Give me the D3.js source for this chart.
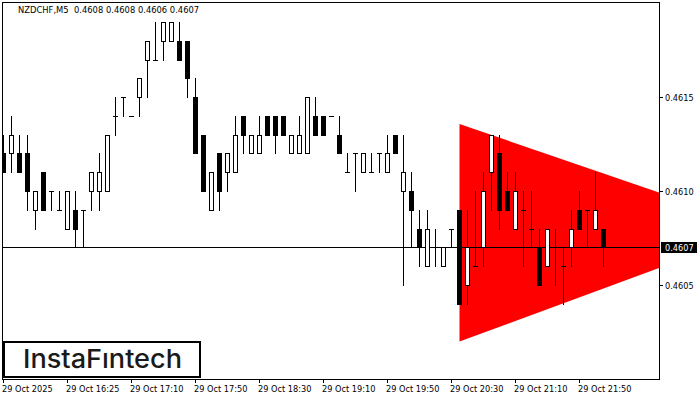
<!DOCTYPE html>
<html><head><meta charset="utf-8">
<script src="https://cdn.jsdelivr.net/npm/d3@7"></script>
<style>html,body{margin:0;padding:0;background:#fff;overflow:hidden;} svg{display:block;}</style>
</head><body>
<script>
// ---- data (NZDCHF, M5) ----
const opens = [0.4612,0.4612,0.4612,0.4612,0.4609,0.4611,0.4610,0.4609,0.4608,0.4609,
0.4609,0.4610,0.4610,0.4610,0.4614,0.4615,0.4614,0.4615,0.4617,0.4617,
0.4618,0.4618,0.4618,0.4618,0.4615,0.4613,0.4609,0.4612,0.4611,0.4611,
0.4614,0.4612,0.4612,0.4614,0.4614,0.4614,0.4612,0.4612,0.4612,0.4614,
0.4614,0.4614,0.4613,0.4611,0.4612,0.4611,0.4611,0.4612,0.4611,0.4613,
0.4610,0.4610,0.4608,0.4606,0.4607,0.4606,0.4608,0.4609,0.4605,0.4606,
0.4607,0.4611,0.4612,0.4610,0.4608,0.4609,0.4608,0.4607,0.4606,0.4607,
0.4606,0.4607,0.4609,0.4609,0.4608,0.4608];
const highs = [0.4613,0.4614,0.4613,0.4613,0.4610,0.4611,0.4610,0.4610,0.4610,0.4610,
0.4609,0.4611,0.4612,0.4613,0.4615,0.4615,0.4614,0.4616,0.4618,0.4619,
0.4619,0.4619,0.4619,0.4618,0.4616,0.4613,0.4611,0.4612,0.4612,0.4614,
0.4614,0.4613,0.4614,0.4614,0.4614,0.4614,0.4613,0.4614,0.4615,0.4615,
0.4614,0.4614,0.4614,0.4612,0.4612,0.4612,0.4612,0.4612,0.4613,0.4613,
0.4613,0.4611,0.4609,0.4609,0.4608,0.4607,0.4608,0.4609,0.4609,0.4610,
0.4611,0.4613,0.4613,0.4611,0.4611,0.4610,0.4610,0.4608,0.4608,0.4608,
0.4607,0.4609,0.4610,0.4609,0.4611,0.4608];
const lows = [0.4611,0.4611,0.4611,0.4609,0.4608,0.4609,0.4609,0.4609,0.4608,0.4607,
0.4607,0.4609,0.4609,0.4610,0.4613,0.4614,0.4614,0.4614,0.4615,0.4617,
0.4617,0.4618,0.4617,0.4615,0.4612,0.4610,0.4609,0.4609,0.4610,0.4611,
0.4612,0.4612,0.4612,0.4613,0.4612,0.4613,0.4612,0.4612,0.4612,0.4613,
0.4613,0.4614,0.4612,0.4611,0.4610,0.4611,0.4611,0.4611,0.4611,0.4612,
0.4605,0.4607,0.4606,0.4606,0.4606,0.4606,0.4607,0.4604,0.4604,0.4606,
0.4606,0.4609,0.4608,0.4609,0.4608,0.4606,0.4607,0.4605,0.4606,0.4605,
0.4604,0.4606,0.4608,0.4607,0.4608,0.4606];
const closes = [0.4611,0.4613,0.4611,0.4610,0.4610,0.4609,0.4610,0.4609,0.4610,0.4608,
0.4609,0.4611,0.4611,0.4613,0.4614,0.4615,0.4614,0.4616,0.4618,0.4617,
0.4619,0.4619,0.4617,0.4616,0.4612,0.4610,0.4611,0.4610,0.4612,0.4613,
0.4613,0.4613,0.4613,0.4613,0.4613,0.4613,0.4613,0.4613,0.4615,0.4613,
0.4613,0.4614,0.4612,0.4611,0.4612,0.4612,0.4611,0.4612,0.4612,0.4612,
0.4611,0.4609,0.4607,0.4608,0.4607,0.4607,0.4608,0.4604,0.4607,0.4606,
0.4610,0.4613,0.4609,0.4609,0.4610,0.4609,0.4608,0.4605,0.4608,0.4607,
0.4606,0.4608,0.4608,0.4609,0.4609,0.4607];
const timeLabels = ["29 Oct 2025","29 Oct 16:25","29 Oct 17:10","29 Oct 17:50","29 Oct 18:30",
"29 Oct 19:10","29 Oct 19:50","29 Oct 20:30","29 Oct 21:10","29 Oct 21:50"];
const timeTickIndex = [0,8,16,24,32,40,48,56,64,72];
const priceTicks = [0.4605, 0.4610, 0.4615];
const currentPrice = 0.4607;
const titleText = "NZDCHF,M5  0.4608 0.4608 0.4606 0.4607";
// symmetric triangle pattern: [bar index, price]
const triangleIdx = [57, 95.2, 57];
const trianglePrice = [0.46136, 0.4608, 0.4602];

// ---- layout ----
const W = 700, H = 400;
const L = 2, R = 659, T = 2, B = 379;
const x = d3.scaleLinear().domain([0, 75]).range([3.5, 603.5]);
const y = d3.scaleLinear().domain([0.4600, 0.4620]).range([379.1, 3.9]);
const py = v => Math.floor(y(v)) + 0.5;

const svg = d3.select("body").append("svg").attr("width", W).attr("height", H)
  .style("font-family", "'DejaVu Sans', sans-serif");
svg.append("rect").attr("width", W).attr("height", H).attr("fill", "#fff");

svg.append("defs").append("clipPath").attr("id", "plot")
  .append("rect").attr("x", L).attr("y", T).attr("width", R - L).attr("height", B - T);

const plot = svg.append("g").attr("clip-path", "url(#plot)");

// triangle
plot.append("polygon")
  .attr("points", triangleIdx.map((d, i) => [x(d), y(trianglePrice[i])].join(",")).join(" "))
  .attr("fill", "#ff0000");

// current price line
plot.append("line").attr("x1", L).attr("x2", R).attr("y1", py(currentPrice)).attr("y2", py(currentPrice))
  .attr("stroke", "#000").attr("stroke-width", 1).attr("shape-rendering", "crispEdges");

// candles
const idx = d3.range(opens.length);
const cg = plot.append("g").attr("shape-rendering", "crispEdges");
cg.selectAll("line.wick").data(idx).join("line").attr("class", "wick")
  .attr("x1", i => x(i)).attr("x2", i => x(i))
  .attr("y1", i => py(highs[i]) - 0.5).attr("y2", i => py(lows[i]) + 0.5)
  .attr("stroke", "#000").attr("stroke-width", 1);
const doji = idx.filter(i => opens[i] === closes[i]);
const bodies = idx.filter(i => opens[i] !== closes[i]);
cg.selectAll("line.doji").data(doji).join("line").attr("class", "doji")
  .attr("x1", i => x(i) - 2.5).attr("x2", i => x(i) + 2.5)
  .attr("y1", i => py(opens[i])).attr("y2", i => py(opens[i]))
  .attr("stroke", "#000").attr("stroke-width", 1);
cg.selectAll("rect.body").data(bodies).join("rect").attr("class", "body")
  .attr("x", i => x(i) - 2).attr("width", 4)
  .attr("y", i => py(Math.max(opens[i], closes[i])))
  .attr("height", i => py(Math.min(opens[i], closes[i])) - py(Math.max(opens[i], closes[i])))
  .attr("fill", i => closes[i] < opens[i] ? "#000" : "#fff")
  .attr("stroke", "#000").attr("stroke-width", 1);

// frame
svg.append("rect").attr("x", L + 0.5).attr("y", T + 0.5).attr("width", R - L).attr("height", B - T)
  .attr("fill", "none").attr("stroke", "#000").attr("stroke-width", 1).attr("shape-rendering", "crispEdges");

// right axis
const ra = svg.append("g");
ra.selectAll("line").data(priceTicks).join("line")
  .attr("x1", R + 0.5).attr("x2", R + 4).attr("y1", d => py(d)).attr("y2", d => py(d))
  .attr("stroke", "#000").attr("shape-rendering", "crispEdges");
ra.selectAll("text").data(priceTicks).join("text")
  .attr("x", 665).attr("y", d => py(d) + 3.5).attr("font-size", "8.2px").attr("fill", "#000")
  .text(d => d.toFixed(4));

// current price label
svg.append("rect").attr("x", 661).attr("y", py(currentPrice) - 5.5).attr("width", 36).attr("height", 11)
  .attr("fill", "#000");
svg.append("text").attr("x", 665).attr("y", py(currentPrice) + 3.5).attr("font-size", "8.2px")
  .attr("fill", "#fff").text(currentPrice.toFixed(4));

// bottom axis
const ba = svg.append("g");
ba.selectAll("line").data(timeTickIndex).join("line")
  .attr("x1", d => x(d)).attr("x2", d => x(d)).attr("y1", B + 0.5).attr("y2", B + 4)
  .attr("stroke", "#000").attr("shape-rendering", "crispEdges");
ba.selectAll("text").data(timeTickIndex).join("text")
  .attr("x", d => x(d) - 1.5).attr("y", 392).attr("font-size", "8.2px").attr("fill", "#000")
  .text((d, i) => timeLabels[i]);

// title
svg.append("text").attr("x", 18).attr("y", 12.5).attr("font-size", "8.4px").attr("fill", "#000")
  .style("white-space", "pre").text(titleText);

// logo
svg.append("rect").attr("x", 4).attr("y", 342).attr("width", 196).attr("height", 35)
  .attr("fill", "#fff").attr("stroke", "#000").attr("stroke-width", 2);
svg.append("text").attr("x", 23).attr("y", 368).attr("font-size", "26px")
  .attr("font-family", "Inter, sans-serif").attr("font-weight", 500).attr("fill", "#1a1a1a")
  .attr("textLength", 159).attr("lengthAdjust", "spacingAndGlyphs")
  .text("InstaFıntech");
</script>
</body></html>
